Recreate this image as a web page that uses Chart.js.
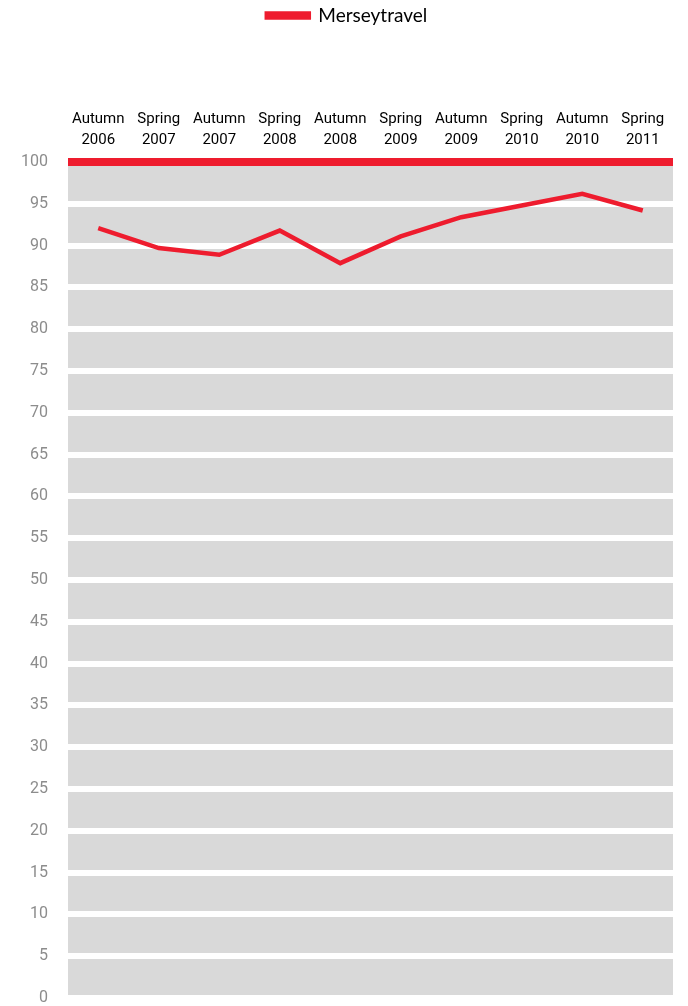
<!DOCTYPE html>
<html>
<head>
<meta charset="utf-8">
<script src="https://cdn.jsdelivr.net/npm/chart.js@4"></script>
<style>
  html, body { margin: 0; padding: 0; background: #fff; }
  #wrap { width: 688px; height: 1006px; }
</style>
</head>
<body>
<div id="wrap"><canvas id="chart"></canvas></div>
<script>
const periods = [
  ['Autumn', '2006'], ['Spring', '2007'], ['Autumn', '2007'], ['Spring', '2008'],
  ['Autumn', '2008'], ['Spring', '2009'], ['Autumn', '2009'], ['Spring', '2010'],
  ['Autumn', '2010'], ['Spring', '2011']
];
const merseytravel = [92.1, 89.7, 88.9, 91.8, 87.9, 91.1, 93.4, 94.8, 96.2, 94.2];

const RED = '#ee1c2e';
const GREY_BG = '#d9d9d9';
const axisFont = 'Roboto, sans-serif';

// grey plot background
const plotBg = {
  id: 'plotBg',
  beforeDraw(chart) {
    const { ctx, chartArea: a } = chart;
    ctx.save();
    ctx.fillStyle = GREY_BG;
    ctx.fillRect(a.left, a.top, a.right - a.left, a.bottom - a.top);
    ctx.restore();
  }
};

const ctx = document.getElementById('chart').getContext('2d');
new Chart(ctx, {
  type: 'line',
  data: {
    labels: periods,
    datasets: [{
      label: 'Merseytravel',
      data: merseytravel,
      borderColor: RED,
      backgroundColor: RED,
      borderWidth: 4.5,
      pointRadius: 0,
      tension: 0,
      fill: false
    }]
  },
  options: {
    responsive: true,
    maintainAspectRatio: false,
    animation: false,
    layout: { padding: { left: 21, right: 15, top: 0, bottom: 0 } },
    plugins: {
      tooltip: { enabled: false },
      legend: {
        position: 'top',
        labels: {
          boxWidth: 42,
          boxHeight: 4,
          padding: 6,
          color: '#000',
          font: { family: 'Lato, "Open Sans", sans-serif', size: 19 }
        }
      }
    },
    scales: {
      x: {
        position: 'top',
        offset: true,
        grid: { display: false, drawTicks: false },
        border: { display: false },
        ticks: {
          color: '#000',
          padding: 11,
          maxRotation: 0,
          autoSkip: false,
          font: { family: axisFont, size: 15, lineHeight: 1.4 }
        },
        afterFit(scale) { scale.height += 63; }
      },
      y: {
        min: 0,
        max: 100,
        grid: {
          drawTicks: false,
          color: (c) => c.tick && c.tick.value === 100 ? RED : '#ffffff',
          lineWidth: (c) => c.tick && c.tick.value === 100 ? 8 : 6
        },
        border: { display: false },
        ticks: {
          stepSize: 5,
          color: '#8c8c8c',
          padding: 20,
          font: { family: axisFont, size: 16 }
        },
        afterFit(scale) {
          scale.width = 47;
          scale.paddingTop = 0;
          scale.paddingBottom = 8;
        }
      }
    }
  },
  plugins: [plotBg]
});
</script>
</body>
</html>
